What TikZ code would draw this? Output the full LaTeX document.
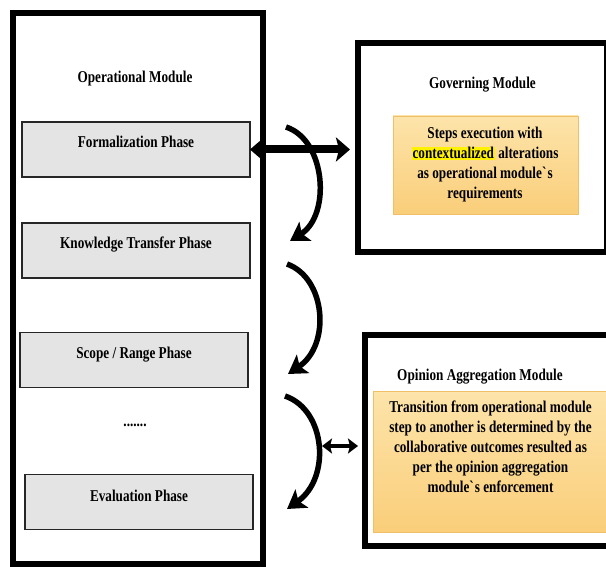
\documentclass[tikz,border=0pt]{standalone}
\usepackage{fontspec}
\setmainfont{Liberation Serif}[FakeStretch=0.8]
\usetikzlibrary{calc}
\usetikzlibrary{positioning}
\usetikzlibrary{arrows.meta}
\definecolor{phasegray}{RGB}{228,228,228}
\definecolor{notetop}{RGB}{253,228,170}
\definecolor{notebot}{RGB}{250,206,122}
\definecolor{noteedge}{RGB}{240,192,104}
\newcommand{\hlword}[1]{{\setlength{\fboxsep}{1pt}\colorbox{yellow}{#1}}}

\begin{document}
\begin{tikzpicture}[x=1pt,y=-1pt,
every node/.style={font=\fontsize{16.5}{20}\selectfont\bfseries},
module/.style={draw,line width=6.5pt,inner sep=0pt,outer sep=0pt},
phase/.style={draw=black!85,line width=1.6pt,fill=phasegray,minimum width=228pt,minimum height=55pt,inner sep=0pt,outer sep=0pt},
note/.style={draw=noteedge,line width=0.8pt,top color=notetop,bottom color=notebot,inner sep=0pt,outer sep=0pt},
bigarrow/.style={line width=8pt,{Stealth[length=14pt,width=24pt,inset=3pt]}-{Stealth[length=14pt,width=24pt,inset=3pt]}},
smallarrow/.style={line width=4pt,{Stealth[length=10pt,width=15pt,inset=2pt]}-{Stealth[length=10pt,width=15pt,inset=2pt]}},
curvearrow/.style={line width=5.5pt,-{Stealth[length=18pt,width=22pt,inset=4pt]}}]

\useasboundingbox (0,0) rectangle (606,567);
\clip (0,0) rectangle (606,567);

\node[module,minimum width=250pt,minimum height=551pt] (oper) at (138,288.5) {};
\node[module,minimum width=249pt,minimum height=209pt] (gov) at (482.5,147.5) {};
\node[module,minimum width=247pt,minimum height=211pt] (opin) at (488.5,440.5) {};

\node[anchor=base] (oper title) at (135,82.5) {Operational Module};
\node[below=45.5pt of gov.north,anchor=base] (gov title) {Governing Module};
\node[anchor=base] (opin title) at (480,380.5) {Opinion Aggregation Module};

\node[phase] (form) at (136,149.5) {};
\node[phase] (know) at (136,250.5) {};
\node[phase] (scope) at (134,360) {};
\node[phase] (eval) at (139,502) {};
\node[below=25.5pt of form.north,anchor=base] (form text) {Formalization Phase};
\node[below=25.5pt of know.north,anchor=base] (know text) {Knowledge Transfer Phase};
\node[below=26.5pt of scope.north,anchor=base] (scope text) {Scope / Range Phase};
\node[below=26.5pt of eval.north,anchor=base] (eval text) {Evaluation Phase};
\node[anchor=base] (dots) at (135,426) {.......};

\node[note,minimum width=185pt,minimum height=98pt] (gov note) at (485.5,165) {};
\node[align=center] (gov text) at (485,165) {Steps execution with\\
\hlword{contextualized} alterations\\
as operational module{\textasciigrave}s\\
requirements};

\node[note,minimum width=235pt,minimum height=141pt] (opin note) at (490.5,461.5) {};
\node[align=center] (opin text) at (490.5,447) {Transition from operational module\\
step to another is determined by the\\
collaborative outcomes resulted as\\
per the opinion aggregation\\
module{\textasciigrave}s enforcement};

\draw[bigarrow,shorten >=8pt] (form.east) -- (gov.west |- form.east);

\coordinate (c1 start) at (286,127);
\coordinate (c1 end) at (290,241);
\coordinate (c2 start) at (287,264);
\coordinate (c2 end) at (288,374);
\coordinate (c3 start) at (285,396);
\coordinate (c3 end) at (287,509);
\draw[curvearrow] (c1 start) .. controls (326,140) and (331,215) .. (c1 end);
\draw[curvearrow] (c2 start) .. controls (326,278) and (331,345) .. (c2 end);
\draw[curvearrow] (c3 start) .. controls (326,410) and (331,478) .. (c3 end);

\coordinate (sa) at (322,446);
\draw[smallarrow,shorten >=7pt] (sa) -- (opin.west |- sa);
\end{tikzpicture}
\end{document}
